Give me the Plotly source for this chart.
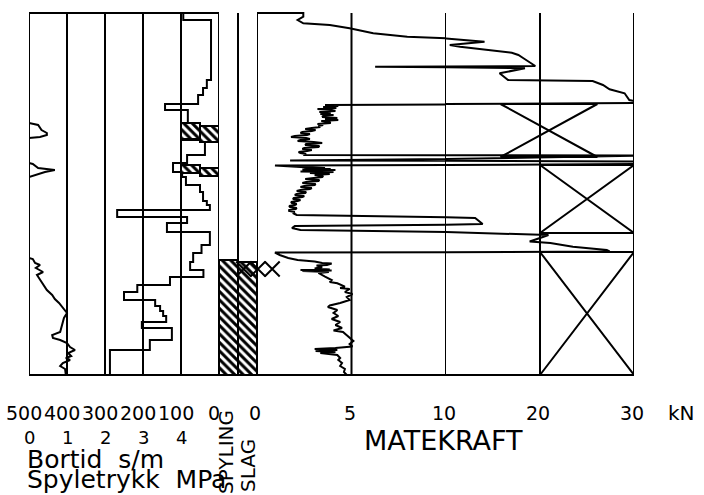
import plotly.graph_objects as go

W, H = 704, 495

# ---------------- data ----------------
# Bortid (s/m): step profile, value valid from each depth (m) downwards
bortid_depth = [0.0, 0.7, 6.7, 7.5, 8.2, 9.1, 9.7, 11.0, 12.7, 14.2, 15.0, 15.9, 16.4, 17.2, 17.9,
                18.8, 19.2, 19.7, 20.4, 21.0, 21.9, 23.2, 24.0, 24.9, 25.7, 26.4, 27.2, 27.9, 28.7,
                29.3, 29.8, 30.3, 30.9, 31.5, 32.7, 33.7, 36.2]
bortid_value = [94, 21, 32, 42, 55, 142, 82, 97, 37, 84, 121, 97, 87, 50, 42,
                32, 24, 268, 84, 137, 24, 46, 68, 76, 41, 129, 215, 250, 168,
                155, 147, 139, 203, 124, 182, 287, 287]

# Spyletrykk (MPa)
spyle_depth = [0.0, 11.0, 11.2, 11.7, 12.0, 12.2, 12.4, 12.5, 15.0, 15.1, 15.5, 15.7, 15.9, 16.1, 16.3, 16.4,
               24.5, 24.6, 25.0, 25.2, 25.5, 25.9, 26.2, 26.7, 27.2, 27.7, 28.2, 28.6, 29.0, 29.5, 30.0,
               30.5, 31.0, 31.5, 31.9, 32.2, 32.5, 32.7, 33.0, 33.4, 33.7, 34.0, 34.3, 34.5, 34.7, 35.0,
               35.3, 35.6, 35.9, 36.2]
spyle_value = [0, 0, 0.24, 0.33, 0.47, 0.47, 0.29, 0, 0, 0.1, 0.24, 0.68, 0.42, 0.24, 0.1, 0,
               0, 0.1, 0.16, 0.29, 0.18, 0.37, 0.21, 0.29, 0.39, 0.47, 0.61, 0.68, 0.79, 0.89, 1.0,
               0.92, 0.89, 0.84, 0.82, 0.61, 0.63, 0.82, 1.0, 1.08, 1.21, 1.03, 1.11, 0.97, 1.08, 0.89,
               0.82, 0.95, 0.97, 0.97]

# Matekraft (kN), read in depth segments
mk_depth_top = [0.0, 0.0, 0.37, 0.7, 1.03, 1.2, 1.53, 2.03, 2.37, 2.53, 2.87, 3.2, 3.37, 3.97, 4.2,
                4.5, 4.9, 5.3, 5.37, 5.53, 6.03, 6.7, 6.8, 7.2, 7.63, 8.03, 8.7, 9.0, 9.13]
mk_value_top = [0, 2.45, 2.45, 2.15, 2.45, 3.85, 4.9, 6.15, 7.95, 9.7, 14.1, 10.4, 11.5, 17.0, 17.7,
                18.2, 18.9, 19.5, 6.25, 18.4, 15.7, 16.6, 25.6, 26.7, 27.4, 29.0, 29.5, 31, 4.3]

mk_depth_a = [9.2, 9.3, 9.4, 9.5, 9.6, 9.7, 9.8, 9.9, 10.0, 10.1, 10.2, 10.3, 10.4, 10.5, 10.6, 10.7,
              10.8, 10.9, 11.0, 11.1, 11.2, 11.3, 11.4, 11.5, 11.6, 11.7, 11.8, 11.9, 12.0, 12.1, 12.2,
              12.3, 12.4, 12.5, 12.6, 12.7, 12.8, 12.9, 13.0, 13.1, 13.2, 13.3, 13.4, 13.5, 13.6, 13.7,
              13.8, 13.9, 14.0, 14.1, 14.2]
mk_value_a = [3.6, 4.3, 3.5, 4.2, 3.2, 3.9, 4.15, 3.3, 3.9, 3.35, 4.05, 3.5, 3.45, 4.25, 3.6, 4.3,
              3.4, 3.8, 3.9, 3.2, 3.5, 3.25, 3.35, 2.9, 2.55, 3.1, 2.9, 2.4, 2.3, 2.8, 2.65,
              2.0, 1.8, 2.6, 2.8, 2.3, 2.15, 3.0, 3.45, 2.6, 2.55, 3.3, 3.25, 2.5, 2.4, 2.9,
              2.65, 2.2, 2.3, 2.6, 2.45]

mk_depth_jump = [14.25, 14.75, 14.85, 15.1, 15.25]
mk_value_jump = [31, 1.75, 31, 31, 0.95]

mk_depth_b = [15.4, 15.5, 15.55, 15.6, 15.65, 15.7, 15.75, 15.8, 15.85, 15.9, 16.0, 16.1, 16.2, 16.3,
              16.4, 16.5, 16.6, 16.7, 16.8, 16.9, 17.0, 17.1, 17.2, 17.3, 17.4, 17.5, 17.6, 17.7,
              17.8, 17.9, 18.0, 18.1, 18.2, 18.3, 18.4, 18.5, 18.6, 18.7, 18.8, 18.9, 19.0, 19.1,
              19.2, 19.3, 19.4, 19.5, 19.6, 19.7, 19.8, 19.9, 20.0, 20.1, 20.2]
mk_value_b = [2.3, 3.6, 2.5, 3.9, 2.4, 4.15, 2.6, 3.9, 2.3, 4.05, 2.8, 3.85, 3.05, 3.5,
              3.45, 2.8, 2.55, 3.3, 3.25, 2.6, 2.4, 3.1, 3.05, 2.5, 2.3, 2.9, 2.8, 2.3,
              2.1, 2.6, 2.55, 2.1, 2.0, 2.5, 2.4, 1.95, 1.9, 2.3, 2.15, 1.8, 1.85, 2.1,
              2.0, 1.7, 1.75, 2.1, 2.05, 1.7, 1.7, 2.0, 1.9, 2.0, 2.1]

mk_depth_mid = [20.5, 21.1, 21.3, 21.5, 21.7, 22.2, 22.5, 22.85, 23.0, 23.37, 23.7, 23.85, 23.95]
mk_value_mid = [13.1, 13.9, 2.0, 1.85, 2.3, 20.9, 20.0, 18.9, 21.1, 23.5, 27.1, 27.4, 0.95]

mk_depth_low = [24.2, 24.5, 24.7, 24.85, 25.0, 25.05, 25.2, 25.25, 25.4, 25.55, 25.65, 25.7, 25.75,
                25.8, 25.9, 26.0, 26.37, 26.7, 26.9, 27.03, 27.37, 27.5, 27.6, 27.9, 28.1, 28.4,
                28.7, 29.0, 29.25, 29.4, 29.7, 30.0, 30.3, 30.6, 30.9, 31.2, 31.5, 31.75, 31.9,
                32.2, 32.5, 32.8, 33.1, 33.35, 33.5, 33.6, 33.7, 33.8, 33.9, 34.0, 34.2, 34.5,
                34.7, 35.0, 35.3, 35.6, 35.9, 36.2]
mk_value_low = [1.2, 1.65, 2.15, 3.05, 3.45, 3.95, 3.7, 3.15, 3.45, 3.05, 3.85, 2.3, 3.95,
                2.4, 3.8, 3.25, 3.6, 3.95, 3.85, 4.25, 4.65, 4.4, 4.9, 4.65, 5.05, 4.75,
                4.9, 4.4, 3.85, 3.75, 4.25, 4.05, 4.3, 3.95, 4.4, 4.15, 4.5, 4.05, 4.55,
                4.75, 4.9, 5.1, 4.9, 5.05, 4.15, 3.05, 4.25, 3.1, 4.15, 3.35, 4.25, 4.4,
                4.3, 4.5, 4.4, 4.65, 4.6, 4.75]

# Spyling / slag intervals (depth, m)
spyling_top = [24.7]
spyling_bot = [36.2]
slag_top = [24.9]
slag_bot = [36.2]

# Hatched flag boxes in the bortid column (bortid s/m range, depth m)
flag_left = [100, 50, 100, 50]
flag_right = [50, 0, 50, 0]
flag_top = [11.0, 11.3, 15.2, 15.5]
flag_bot = [12.6, 12.9, 16.0, 16.3]

# Rotation intervals (kN range, depth m)
rot_left = [15.8, 20, 20]
rot_right = [26.1, 30, 30]
rot_top = [9.1, 15.2, 23.9]
rot_bot = [14.4, 22.0, 36.2]

# Slag marks (position across the slag column scale, depth m)
slag_mark_pos = [1.3, 2.05, 2.8]
slag_mark_depth = [25.6, 25.6, 25.6]

bortid_ticks = [500, 400, 300, 200, 100, 0]
spyle_ticks = [0, 1, 2, 3, 4]
mk_ticks_low = [0, 5, 10]
mk_ticks_high = [20, 30]
DMAX = 36.2

mk_depth = mk_depth_top + mk_depth_a + mk_depth_jump + mk_depth_b + mk_depth_mid + mk_depth_low
mk_value = mk_value_top + mk_value_a + mk_value_jump + mk_value_b + mk_value_mid + mk_value_low

# ---------------- figure ----------------
BL = dict(color="black", width=2)
fig = go.Figure()

fig.add_trace(go.Scatter(x=bortid_value, y=bortid_depth, mode="lines",
                         line=dict(color="black", width=2, shape="vh"), xaxis="x", yaxis="y"))
fig.add_trace(go.Scatter(x=spyle_value, y=spyle_depth, mode="lines", line=BL, xaxis="x2", yaxis="y"))
for xa in ["x4", "x5"]:
    fig.add_trace(go.Scatter(x=mk_value, y=mk_depth, mode="lines", line=BL, xaxis=xa, yaxis="y"))

pat = dict(shape="\\", size=6, solidity=0.5, fgcolor="black", bgcolor="white", fgopacity=1)

def hatch_box(l, r, t, b, xa):
    fig.add_trace(go.Scatter(x=[l, r, r, l, l], y=[t, t, b, b, t], mode="lines", fill="toself",
                             fillcolor="white", fillpattern=pat, line=BL, xaxis=xa, yaxis="y"))

for t, b in zip(spyling_top, spyling_bot):
    hatch_box(0, 1, t, b, "x3")
for t, b in zip(slag_top, slag_bot):
    hatch_box(1, 2, t, b, "x3")
for l, r, t, b in zip(flag_left, flag_right, flag_top, flag_bot):
    hatch_box(l, r, t, b, "x")

for l, r, t, b in zip(rot_left, rot_right, rot_top, rot_bot):
    fig.add_trace(go.Scatter(x=[l, r, l, r, l], y=[t, b, b, t, t], mode="lines", line=BL,
                             xaxis="x5", yaxis="y"))

fig.add_trace(go.Scatter(x=slag_mark_pos, y=slag_mark_depth, mode="markers", cliponaxis=False,
                         marker=dict(symbol="x-thin", size=15, line=dict(color="black", width=2)),
                         xaxis="x6", yaxis="y"))

# frame and grid lines
shapes = []
def vline(xref, xv):
    shapes.append(dict(type="line", xref=xref, yref="y", x0=xv, x1=xv, y0=0, y1=DMAX, line=BL))
def hline(xref, a, b, yv):
    shapes.append(dict(type="line", xref=xref, yref="y", x0=a, x1=b, y0=yv, y1=yv, line=BL))

for v in bortid_ticks:
    vline("x", v)
hline("x", 500, 0, 0)
hline("x", 500, 0, DMAX)
vline("x3", 1)
hline("x3", 0, 2, DMAX)
for v in mk_ticks_low:
    vline("x4", v)
for v in mk_ticks_high:
    vline("x5", v)
hline("x4", 0, 10, DMAX)
hline("x5", 10, 30, DMAX)

# labels
F = "DejaVu Sans"
ann = []
def py(p):
    return 1 - p / H

def label(x, xref, ypx, text, size, xshift=0, xanchor="center", angle=0):
    ann.append(dict(x=x, xref=xref, y=py(ypx), yref="paper", text=text, showarrow=False,
                    xanchor=xanchor, yanchor="middle", xshift=xshift, textangle=angle,
                    borderpad=0, font=dict(family=F, size=size, color="black")))

for v in bortid_ticks:
    label(v, "x", 413, str(v), 19, xshift=-5)
for v in spyle_ticks:
    label(v, "x2", 437, str(v), 18)
for v in mk_ticks_low:
    label(v, "x4", 413, str(v), 19, xshift=-2)
for v in mk_ticks_high:
    label(v, "x5", 413, str(v), 19, xshift=-2)
label(681 / W, "paper", 413, "kN", 20)
label(443 / W, "paper", 440, "MATEKRAFT", 27)
label(26 / W, "paper", 459, "Bortid  s/m", 25, xanchor="left")
label(26 / W, "paper", 479, "Spyletrykk  MPa", 25, xanchor="left")
label(226 / W, "paper", 452, "SPYLING", 20, angle=-90)
label(248 / W, "paper", 466, "SLAG", 20, angle=-90)

hid = dict(visible=False, fixedrange=True)
fig.update_layout(
    width=W, height=H, margin=dict(l=0, r=0, t=0, b=0), autosize=False,
    paper_bgcolor="white", plot_bgcolor="rgba(0,0,0,0)", showlegend=False,
    xaxis=dict(domain=[29 / W, 219 / W], range=[500, 0], anchor="y", **hid),
    xaxis2=dict(domain=[29 / W, 219 / W], range=[0, 5], anchor="y", overlaying="x", **hid),
    xaxis3=dict(domain=[219 / W, 257 / W], range=[0, 2], anchor="y", **hid),
    xaxis4=dict(domain=[257 / W, 446 / W], range=[0, 10], anchor="y", **hid),
    xaxis5=dict(domain=[446 / W, 634 / W], range=[10, 30], anchor="y", **hid),
    xaxis6=dict(domain=[219 / W, 295 / W], range=[0, 4], anchor="y", **hid),
    yaxis=dict(domain=[1 - 377 / H, 1 - 11 / H], range=[36.4, -0.2], anchor="x", **hid),
    shapes=shapes, annotations=ann,
)

fig.write_html("out.html", config={"displayModeBar": False, "staticPlot": True},
               post_script="document.body.style.margin='0';document.body.style.overflow='hidden';")
